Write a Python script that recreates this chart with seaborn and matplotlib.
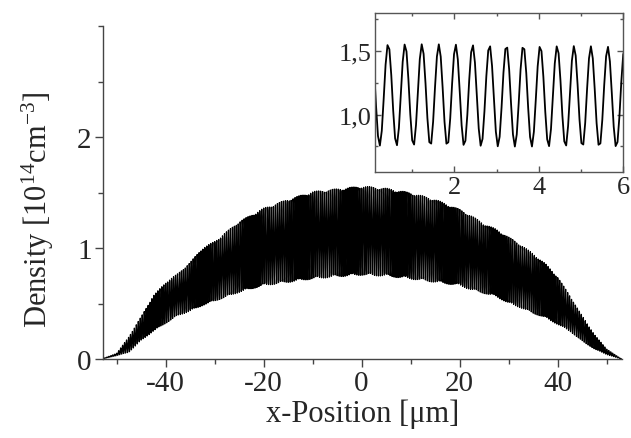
import numpy as np
import pandas as pd
import matplotlib
matplotlib.use("Agg")
import matplotlib.pyplot as plt
import seaborn as sns
from matplotlib.ticker import MultipleLocator

# envelope of the density fringes
env_x = [-53, -50, -47.5, -45, -42.5, -40, -37.5, -35, -32.5, -30, -27.5, -25,
         -22.5, -20, -15, -10, -5, 0, 5, 10, 15, 20, 22.5, 25, 27.5, 30,
         32.5, 35, 37.5, 40, 42.5, 45, 47.5, 50, 53]
env_upper = [0.0, 0.05, 0.20, 0.38, 0.57, 0.69, 0.77, 0.87, 1.00, 1.06, 1.15, 1.24,
             1.30, 1.36, 1.44, 1.51, 1.535, 1.56, 1.54, 1.50, 1.44, 1.35, 1.29, 1.22,
             1.17, 1.10, 1.03, 0.95, 0.86, 0.74, 0.57, 0.39, 0.22, 0.09, 0.0]
env_lower = [0.0, 0.03, 0.06, 0.165, 0.25, 0.32, 0.39, 0.43, 0.48, 0.52, 0.56, 0.60,
             0.63, 0.66, 0.69, 0.72, 0.74, 0.755, 0.745, 0.72, 0.69, 0.66, 0.62, 0.59,
             0.56, 0.50, 0.46, 0.41, 0.37, 0.31, 0.25, 0.16, 0.09, 0.04, 0.0]
fringe_period = 0.4     # um
fringe_peak = 0.43      # position of one maximum, um
sample_step = 0.045     # um

main_xticks = [-40, -20, 0, 20, 40]
main_yticks = [0, 1, 2]
inset_xticks = [2, 4, 6]
inset_yticks = [1.0, 1.5]
inset_ylabels = ["1,0", "1,5"]

x = np.arange(-53, 53 + sample_step / 2, sample_step)
up = np.interp(x, env_x, env_upper)
lo = np.interp(x, env_x, env_lower)
dens = lo + (up - lo) * 0.5 * (1 + np.cos(2 * np.pi * (x - fringe_peak) / fringe_period))
df = pd.DataFrame({"x": x, "density": dens})

sns.set_theme(style="ticks")
plt.rcParams["font.family"] = ["Liberation Serif", "DejaVu Serif"]
plt.rcParams["mathtext.fontset"] = "custom"
plt.rcParams["mathtext.rm"] = "Liberation Serif"
plt.rcParams["mathtext.it"] = "Liberation Serif:italic"
plt.rcParams["axes.unicode_minus"] = False

fig = plt.figure(figsize=(6.31, 4.39), dpi=100)
ax = fig.add_axes([0.163, 0.180, 0.8225, 0.758])
sns.lineplot(data=df, x="x", y="density", ax=ax, color="black", lw=0.9,
             estimator=None, sort=False)
ax.set_xlim(-52.8, 53.1)
ax.set_ylim(0, 3)
ax.set_xticks(main_xticks)
ax.set_yticks(main_yticks)
ax.xaxis.set_minor_locator(MultipleLocator(20, offset=10))
ax.yaxis.set_minor_locator(MultipleLocator(0.5))
for s in ["top", "right"]:
    ax.spines[s].set_visible(False)
for s in ["left", "bottom"]:
    ax.spines[s].set_color("#444444")
    ax.spines[s].set_linewidth(1.0)
ax.tick_params(which="major", length=6, width=1, color="#444444", labelsize=21, pad=2)
ax.tick_params(which="minor", length=3.5, width=1, color="#444444")
ax.set_xlabel("x-Position [\u03bcm]", fontsize=22, labelpad=2)
ax.set_ylabel("Density [10$^{14}$cm$^{-3}$]", fontsize=22)
ax.yaxis.set_label_coords(-0.09, 0.45)

ins = fig.add_axes([0.595, 0.6066, 0.393, 0.3614])
sns.lineplot(data=df, x="x", y="density", ax=ins, color="black", lw=1.3,
             estimator=None, sort=False)
ins.set_xlim(0.13, 6.0)
ins.set_ylim(0.55, 1.8)
ins.set_xticks(inset_xticks)
ins.set_yticks(inset_yticks)
ins.set_yticklabels(inset_ylabels)
ins.xaxis.set_minor_locator(MultipleLocator(1))
ins.yaxis.set_minor_locator(MultipleLocator(0.25))
for s in ins.spines.values():
    s.set_color("#555555")
    s.set_linewidth(1.0)
ins.tick_params(which="both", direction="in", top=True, right=True,
                color="#555555", width=1, labelsize=19, pad=3)
ins.tick_params(which="major", length=4)
ins.tick_params(which="minor", length=2.5)
ins.set_xlabel("")
ins.set_ylabel("")

fig.savefig("out.png", dpi=100)
